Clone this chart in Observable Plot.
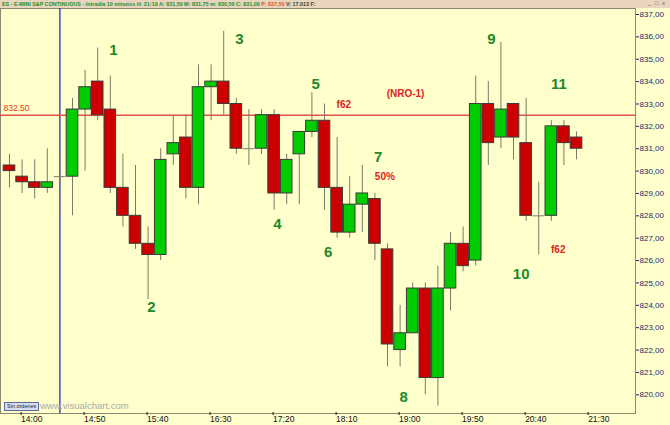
<!DOCTYPE html>
<html>
<head>
<meta charset="utf-8">
<script src="https://cdn.jsdelivr.net/npm/d3@7"></script>
<script src="https://cdn.jsdelivr.net/npm/@observablehq/plot@0.6"></script>
<style>
  body { margin: 0; background: #ffffcc; }
  #wrap { position: relative; width: 670px; height: 425px; overflow: hidden; background: #ffffcc; font-family: "Liberation Sans", Arial, sans-serif; }
  #wrap svg { position: absolute; left: 0; top: 0; background: none; overflow: visible; }
  #bar { position: absolute; left: 0; top: 0; width: 670px; height: 8px; background: #e9d4bd; font-size: 5.4px; line-height: 8px; white-space: nowrap; color: #23902a; font-weight: bold; padding-left: 2px; box-sizing: border-box; }
  #bar .p { color: #e0541a; }
  #bar .v { color: #2a4a2a; }
  #btns { position: absolute; right: 4px; top: 0; font-size: 6px; line-height: 7px; color: #555; font-weight: normal; letter-spacing: 1px; }
  #orders { position: absolute; left: 4px; top: 402px; font-size: 5.5px; line-height: 7px; padding: 0 2px; border: 1px solid #5a6a9a; background: #d6deef; color: #223; }
  #site { position: absolute; left: 40px; top: 400px; font-size: 9.5px; color: #a8a8a8; }
</style>
</head>
<body>
<div id="wrap"></div>
<script>
// ---- data ----
const barStart = "13:50";
const barMinutes = 10;
const openP  = [830.25, 829.75, 829.5, 829.25, 829.75, 829.75, 832.75, 834.0, 832.75, 829.25, 828.0, 826.75, 826.25, 830.75, 831.5, 829.25, 833.75, 834.0, 833.0, 831.0, 831.0, 832.5, 829.0, 830.75, 831.75, 832.25, 829.25, 827.25, 828.5, 828.75, 826.5, 822.0, 822.75, 824.75, 820.75, 824.75, 826.75, 826.0, 833.0, 831.5, 833.0, 831.25, 828.0, 828.0, 832.0, 831.5];
const highP  = [830.75, 830.5, 830.5, 831.0, 830.75, 833.25, 834.5, 835.5, 834.25, 830.75, 830.25, 827.5, 831.0, 832.5, 832.5, 834.75, 834.75, 836.25, 833.25, 832.75, 832.75, 832.75, 830.75, 831.75, 833.5, 833.0, 831.5, 829.75, 830.25, 829.0, 826.75, 824.0, 825.0, 825.0, 825.75, 827.25, 827.5, 834.25, 834.0, 835.75, 833.0, 833.25, 829.5, 832.25, 832.25, 831.75];
const lowP   = [829.25, 829.0, 828.75, 829.0, 828.0, 828.0, 830.0, 832.25, 829.0, 827.5, 826.5, 824.25, 826.0, 830.25, 828.75, 828.5, 832.25, 832.5, 830.75, 830.25, 830.75, 828.25, 828.5, 828.5, 831.5, 828.25, 827.0, 827.0, 827.25, 826.0, 821.25, 821.25, 822.75, 820.0, 819.5, 823.75, 825.5, 825.75, 830.25, 831.0, 830.5, 827.75, 826.25, 827.75, 830.25, 830.5];
const closeP = [830.0, 829.5, 829.25, 829.5, 829.75, 832.75, 833.75, 832.5, 829.25, 828.0, 826.75, 826.25, 830.5, 831.25, 829.25, 833.75, 834.0, 833.0, 831.0, 831.0, 832.5, 829.0, 830.5, 831.75, 832.25, 829.25, 827.25, 828.5, 829.0, 826.75, 822.25, 822.75, 824.75, 820.75, 824.75, 826.75, 825.75, 833.0, 831.25, 832.75, 831.5, 828.0, 828.0, 832.0, 831.25, 831.0];

const timeTicks  = ["14:00", "14:50", "15:40", "16:30", "17:20", "18:10", "19:00", "19:50", "20:40", "21:30"];
const priceTicks = [820, 821, 822, 823, 824, 825, 826, 827, 828, 829, 830, 831, 832, 833, 834, 835, 836, 837];
const sessionOpen = "14:30";
const refLevel = 832.5;
const refLabel = "832.50";

// wave counts: label, bar position, price
const waveText  = ["1", "2", "3", "4", "5", "6", "7", "8", "9", "10", "11"];
const waveBar   = [8.25, 11.27, 18.25, 21.27, 24.29, 25.29, 29.26, 31.29, 38.25, 40.61, 43.6];
const wavePrice = [835.39, 823.9, 835.88, 827.61, 833.9, 826.38, 830.62, 819.9, 835.88, 825.41, 833.87];

// red notes
const noteText  = ["f62", "(NRO-1)", "50%", "f62"];
const noteBar   = [26.53, 31.43, 29.79, 43.55];
const notePrice = [832.98, 833.45, 829.73, 826.48];

// ---- derived tables ----
const toMin = s => { const [h, m] = s.split(":").map(Number); return h * 60 + m; };
const barOf = s => (toMin(s) - toMin(barStart)) / barMinutes;
const candles = openP.map((o, i) => ({i, o, h: highP[i], l: lowP[i], c: closeP[i]}));
const bodies = candles.filter(d => d.o !== d.c);
const dojis = candles.filter(d => d.o === d.c);
const tickBars = timeTicks.map(barOf);
const tickLabel = new Map(tickBars.map((b, k) => [b, timeTicks[k]]));
const waves = waveText.map((t, k) => ({t, x: waveBar[k], y: wavePrice[k]}));
const notes = noteText.map((t, k) => ({t, x: noteBar[k], y: notePrice[k]}));

const GREEN = "#00cc00", RED = "#cc0000", WICK = "#7a7a6a", EDGE = "#3a3a3a";
const hw = 0.46;

const chart = Plot.plot({
  width: 670,
  height: 425,
  marginTop: 8,
  marginBottom: 12,
  marginLeft: 0,
  marginRight: 35,
  style: {fontFamily: "'Liberation Sans', Arial, sans-serif", background: "none", color: "#1f1f6a"},
  x: {type: "linear", domain: [-0.714, 49.68], axis: null},
  y: {type: "linear", domain: [819.164, 837.268], axis: null},
  marks: [
    Plot.frame({fill: "#ffffcc", stroke: "#8a8a70"}),
    Plot.ruleX([barOf(sessionOpen)], {stroke: "#1a1ac8", strokeWidth: 1.2}),
    Plot.ruleY([refLevel], {stroke: "#e2524a", strokeWidth: 1.5}),
    Plot.text([refLabel], {y: refLevel, frameAnchor: "left", text: d => d, textAnchor: "start", dx: 3, dy: -7, fill: "#e03a1e", fontSize: 8.5}),
    Plot.ruleX(candles, {x: "i", y1: "l", y2: "h", stroke: WICK, strokeWidth: 1}),
    Plot.rect(bodies, {
      x1: d => d.i - hw, x2: d => d.i + hw, y1: "o", y2: "c",
      fill: d => d.c > d.o ? GREEN : RED, stroke: EDGE, strokeWidth: 1
    }),
    Plot.ruleY(dojis, {y: "c", x1: d => d.i - hw, x2: d => d.i + hw, stroke: WICK, strokeWidth: 1}),
    Plot.text(waves, {x: "x", y: "y", text: "t", fill: "#21882a", fontSize: 15, fontWeight: "bold"}),
    Plot.text(notes, {x: "x", y: "y", text: "t", fill: "#dd2222", fontSize: 10, fontWeight: "bold"}),
    Plot.axisY(priceTicks, {
      anchor: "right", tickSize: 3, tickPadding: 1, fontSize: 8, color: "#1f1f6a",
      tickFormat: d => d.toFixed(2).replace(".", ",")
    }),
    Plot.axisX(tickBars, {
      anchor: "bottom", tickSize: 3, tickPadding: 0, fontSize: 8.5, color: "#111",
      textAnchor: "start", dx: -1, lineAnchor: "top", dy: -1,
      tickFormat: d => tickLabel.get(d)
    })
  ]
});

const wrap = document.getElementById("wrap");
wrap.appendChild(chart);
const bar = document.createElement("div");
bar.id = "bar";
bar.innerHTML = 'ES - E-MINI S&amp;P CONTINUOUS - Intradía 10 minutos H: 21:19 A: 831,50 M: 831,75 m: 830,50 C: 831,00 <span class="p">P: 837,50</span> <span class="v">V: 17.013 F:</span><span id="btns">_ □ x</span>';
wrap.appendChild(bar);
const orders = document.createElement("div");
orders.id = "orders"; orders.textContent = "Sin órdenes";
wrap.appendChild(orders);
const site = document.createElement("div");
site.id = "site"; site.textContent = "www.visualchart.com";
wrap.appendChild(site);
</script>
</body>
</html>
